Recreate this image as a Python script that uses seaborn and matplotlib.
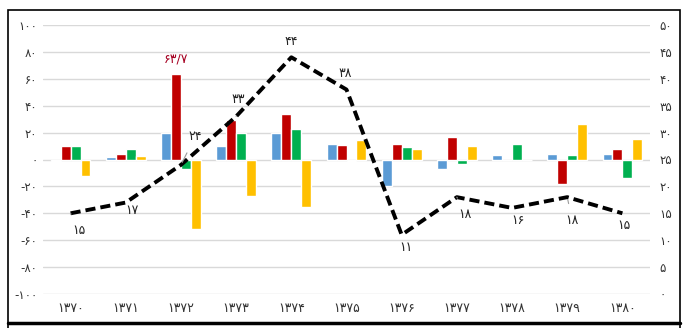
import numpy as np
import pandas as pd
import matplotlib
matplotlib.use("Agg")
import matplotlib.pyplot as plt
import seaborn as sns
from matplotlib.lines import Line2D
from matplotlib.patches import Rectangle

years = ["۱۳۷۰", "۱۳۷۱", "۱۳۷۲", "۱۳۷۳", "۱۳۷۴", "۱۳۷۵", "۱۳۷۶", "۱۳۷۷", "۱۳۷۸", "۱۳۷۹", "۱۳۸۰"]
blue = [-0.8, 2, 20, 10, 20, 11.5, -20, -7, 3, 4, 4]
red = [10, 4, 63.7, 29, 34, 11, 11.3, 17, 0, -18, 8]
green = [10, 8, -7, 20, 22.5, -1, 9.3, -3.5, 11.5, 3, -14]
yellow = [-12, 2.5, -52, -27, -35, 14.5, 8, 10, 0, 26.5, 15]
series_names = ["s1", "s2", "s3", "s4"]
colors = ["#5B9BD5", "#C00000", "#00B050", "#FFC000"]

line_vals = [15, 17, 24, 33, 44, 38, 11, 18, 16, 18, 15]
line_labels = ["۱۵", "۱۷", "۲۴", "۳۳", "۴۴", "۳۸", "۱۱", "۱۸", "۱۶", "۱۸", "۱۵"]
bar_label = "۶۳/۷"

left_ticks = [-100, -80, -60, -40, -20, 0, 20, 40, 60, 80, 100]
left_tick_labels = ["-۱۰۰", "-۸۰", "-۶۰", "-۴۰", "-۲۰", "۰", "۲۰", "۴۰", "۶۰", "۸۰", "۱۰۰"]
right_ticks = [0, 5, 10, 15, 20, 25, 30, 35, 40, 45, 50]
right_tick_labels = ["۰", "۵", "۱۰", "۱۵", "۲۰", "۲۵", "۳۰", "۳۵", "۴۰", "۴۵", "۵۰"]

sns.set_theme(style="white")
plt.rcParams["font.family"] = ["DejaVu Sans"]

W, H = 700, 328
fig = plt.figure(figsize=(W / 100, H / 100), dpi=100)
ax = fig.add_axes([43 / W, 1 - 294 / H, 607 / W, 269 / H])

df = pd.DataFrame({
    "year": years * 4,
    "series": sum([[s] * len(years) for s in series_names], []),
    "value": blue + red + green + yellow,
})
sns.barplot(data=df, x="year", y="value", hue="series", palette=colors,
            width=0.72, saturation=1, ax=ax, legend=False, errorbar=None)

ax.set_xlim(-0.5, 10.5)
ax.set_ylim(-100, 100)
ax.set_yticks(left_ticks)
ax.set_yticklabels(left_tick_labels)
ax.yaxis.grid(True, color="#d9d9d9", lw=1)
ax.xaxis.grid(False)
ax.set_axisbelow(True)
for s in ax.spines.values():
    s.set_visible(False)
ax.set_xlabel("")
ax.set_ylabel("")
ax.tick_params(axis="both", length=0, labelsize=8.5, colors="#333333")
ax.tick_params(axis="x", pad=6, labelsize=9)
ax.tick_params(axis="y", pad=4)

# value label over red bar
ax.annotate(bar_label, xy=(2 - 0.72 / 8, 63.7), xytext=(0, 8), textcoords="offset pixels",
            ha="center", va="bottom", color="#A50021", fontsize=9)

ax2 = ax.twinx()
sns.lineplot(x=np.arange(len(line_vals)), y=line_vals, ax=ax2, color="black",
             lw=2.8, linestyle=(0, (2.6, 1.3)), legend=False)
ax2.set_xlim(-0.5, 10.5)
ax2.set_ylim(0, 50)
ax2.set_yticks(right_ticks)
ax2.set_yticklabels(right_tick_labels)
ax2.grid(False)
for s in ax2.spines.values():
    s.set_visible(False)
ax2.tick_params(axis="y", length=0, labelsize=8.5, colors="#333333", pad=7)
ax2.set_ylabel("")

offsets = [(8, -17), (6, -8), (14, 28), (2, 17), (0, 16), (-1, 16),
           (4, -13), (8, -17), (6, -13), (5, -23), (2, -12)]
leaders = [True, False, True, True, False, False, False, True, False, True, False]
for i, (v, lab) in enumerate(zip(line_vals, line_labels)):
    dx, dy = offsets[i]
    ap = dict(arrowstyle="-", color="#9a9a9a", lw=0.8, shrinkA=5, shrinkB=2) if leaders[i] else None
    ax2.annotate(lab, xy=(i, v), xytext=(dx, dy), textcoords="offset pixels",
                 ha="center", va="center", fontsize=9, color="#222222", arrowprops=ap)

# outer frame
fig.add_artist(Rectangle((8 / W, 1 - 323 / H), 672 / W, 313 / H, transform=fig.transFigure,
                         fill=False, edgecolor="black", lw=1.2))
fig.add_artist(Line2D([8 / W, 680 / W], [1 - 323 / H, 1 - 323 / H], transform=fig.transFigure,
                      color="black", lw=2.5))
fig.add_artist(Line2D([8 / W, 8 / W], [0, 1 - 323 / H], transform=fig.transFigure, color="black", lw=1.2))
fig.add_artist(Line2D([680 / W, 680 / W], [0, 1 - 323 / H], transform=fig.transFigure, color="black", lw=1.2))

fig.savefig("out.png", dpi=100)
